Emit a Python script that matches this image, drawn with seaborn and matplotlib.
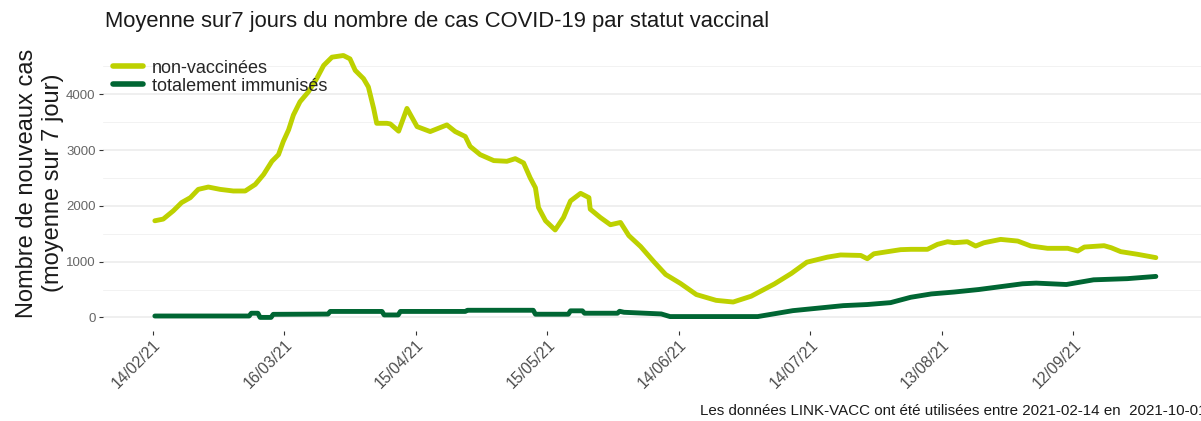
import numpy as np
import pandas as pd
import matplotlib
matplotlib.use("Agg")
import matplotlib.pyplot as plt
import matplotlib.dates as mdates
import seaborn as sns

# ---- data ----
start_date = "2021-02-14"
series_names = ["non-vaccinées", "totalement immunisés"]

# days since start_date, and 7-day mean values
nonvacc_days = [0.5, 2.4, 4.7, 6.6, 8.6, 10.4, 12.7, 15.4, 18.4, 21.1, 23.4, 25.3, 27.2, 28.7,
                29.8, 31.0, 32.1, 33.6, 35.5, 37.4, 39.0, 40.9, 43.5, 45.0, 46.2, 48.1, 49.2,
                50.4, 51.1, 53.4, 54.2, 56.1, 58.0, 60.3, 63.3, 67.1, 69.0, 71.3, 72.4, 74.7,
                77.8, 80.8, 82.7, 84.6, 86.1, 87.3, 88.0, 89.6, 91.8, 93.7, 95.3, 97.6, 99.5,
                99.8, 102.1, 104.4, 106.7, 108.6, 111.3, 114.3, 117.0, 120.4, 124.0, 128.5,
                132.4, 136.5, 141.8, 145.7, 149.2, 153.9, 156.9, 161.5, 163.0, 164.5, 170.6,
                172.9, 176.7, 179.0, 181.3, 182.8, 185.8, 187.7, 189.6, 193.4, 197.3, 200.3,
                204.1, 208.7, 211.0, 212.5, 217.0, 218.6, 220.8, 224.6, 228.8]
nonvacc_values = [1733, 1763, 1911, 2059, 2148, 2296, 2338, 2296, 2267, 2267, 2385, 2563, 2800,
                  2919, 3156, 3363, 3630, 3867, 4044, 4281, 4519, 4667, 4697, 4637, 4430, 4281,
                  4133, 3748, 3481, 3481, 3470, 3340, 3748, 3422, 3333, 3452, 3333, 3244, 3067,
                  2919, 2812, 2800, 2847, 2770, 2503, 2325, 1970, 1733, 1568, 1792, 2089, 2225,
                  2148, 1941, 1792, 1662, 1703, 1467, 1270, 1000, 770, 608, 410, 306, 276, 380,
                  600, 790, 990, 1081, 1120, 1111, 1052, 1141, 1215, 1221, 1221, 1310, 1357,
                  1339, 1357, 1280, 1339, 1399, 1369, 1280, 1239, 1239, 1191, 1262, 1286, 1250,
                  1179, 1132, 1072]

immun_days = [0.5, 22.0, 22.5, 24.0, 24.5, 27.0, 27.5, 40.0, 40.5, 52.3, 52.8, 56.0, 56.5, 71.3,
              71.8, 86.8, 87.3, 94.8, 95.3, 98.0, 98.5, 106.0, 106.5, 107.5, 116.0, 118.0,
              138.0, 146.0, 157.5, 163.0, 168.3, 172.9, 177.6, 182.8, 188.4, 198.4, 201.5,
              208.4, 214.6, 222.3, 228.8]
immun_values = [25, 25, 75, 75, 0, 0, 55, 60, 107, 107, 44, 44, 107, 107, 128, 128, 57, 57, 118,
                118, 75, 75, 110, 92, 62, 15, 15, 121, 211, 231, 265, 361, 421, 455, 500, 603,
                615, 590, 674, 695, 735]

tick_dates = ["2021-02-14", "2021-03-16", "2021-04-15", "2021-05-15", "2021-06-14",
              "2021-07-14", "2021-08-13", "2021-09-12"]
y_ticks = [0, 1000, 2000, 3000, 4000]

title = "Moyenne sur7 jours du nombre de cas COVID-19 par statut vaccinal"
ylabel = "Nombre de nouveaux cas\n(moyenne sur 7 jour)"
caption = "Les données LINK-VACC ont été utilisées entre 2021-02-14 en  2021-10-01"
colors = {"non-vaccinées": "#BDD100", "totalement immunisés": "#006633"}

# ---- build frame ----
t0 = pd.Timestamp(start_date)
df = pd.concat([
    pd.DataFrame({"date": t0 + pd.to_timedelta(nonvacc_days, unit="D"),
                  "cas": nonvacc_values, "statut": series_names[0]}),
    pd.DataFrame({"date": t0 + pd.to_timedelta(immun_days, unit="D"),
                  "cas": immun_values, "statut": series_names[1]}),
], ignore_index=True)

sns.set_theme(style="white")
plt.rcParams["font.family"] = ["Liberation Sans", "DejaVu Sans"]

W, H = 1201, 421
fig = plt.figure(figsize=(W / 100, H / 100), dpi=100)

# panel geometry in pixels
px_left, px_right, px_top, px_bottom = 102.5, 1206, 42.4, 330.5
ax = fig.add_axes([px_left / W, 1 - px_bottom / H, (px_right - px_left) / W, (px_bottom - px_top) / H])

sns.lineplot(data=df, x="date", y="cas", hue="statut", palette=colors,
             hue_order=series_names, linewidth=3.5, ax=ax, estimator=None)

# ggplot-like expansion
xmin = mdates.date2num(t0)
xmax = mdates.date2num(df["date"].max())
ex = (xmax - xmin) * 0.05
ax.set_xlim(xmin - ex, xmax + ex)
ymax = df["cas"].max()
ax.set_ylim(-ymax * 0.05, ymax * 1.05)

ax.set_xticks([mdates.date2num(pd.Timestamp(d)) for d in tick_dates])
ax.xaxis.set_major_formatter(mdates.DateFormatter("%d/%m/%y"))
ax.set_yticks(y_ticks)
ax.set_yticks([v + 500 for v in y_ticks], minor=True)

for s in ax.spines.values():
    s.set_visible(False)
ax.grid(False)
ax.yaxis.grid(True, which="major", color="#EBEBEB", linewidth=1.1)
ax.yaxis.grid(True, which="minor", color="#F2F2F2", linewidth=0.7)
ax.set_axisbelow(True)

ax.tick_params(axis="x", which="major", length=3, width=0.8, color="#333333",
               labelsize=11.3, labelcolor="#4D4D4D", pad=2, bottom=True)
ax.tick_params(axis="y", which="major", length=3, width=0.8, color="#333333",
               labelsize=9.5, labelcolor="#666666", pad=2, left=True)
ax.tick_params(axis="y", which="minor", length=0)
for lab in ax.get_xticklabels():
    lab.set_rotation(45)
    lab.set_ha("right")
    lab.set_rotation_mode("anchor")

ax.set_xlabel("")
ax.set_ylabel("")

handles, labels = ax.get_legend_handles_labels()
ax.legend(handles, labels, loc="upper left", bbox_to_anchor=(109.5 / W, 1 - 56 / H),
          bbox_transform=fig.transFigure, frameon=False, fontsize=13,
          handlelength=1.65, handletextpad=0.5, labelspacing=0.06, borderpad=0.2,
          borderaxespad=0)
for line in ax.get_legend().get_lines():
    line.set_linewidth(4)

fig.text(105 / W, 1 - 22 / H, title, fontsize=15.8, ha="left", va="center", color="#1A1A1A")
fig.text(40 / W, 1 - 183 / H, ylabel, fontsize=17, rotation=90, ha="center", va="center",
         multialignment="center", color="#1A1A1A")
fig.text(1206 / W, 1 - 411 / H, caption, fontsize=10.9, ha="right", va="center", color="#1A1A1A")

fig.savefig("out.png", dpi=100)
